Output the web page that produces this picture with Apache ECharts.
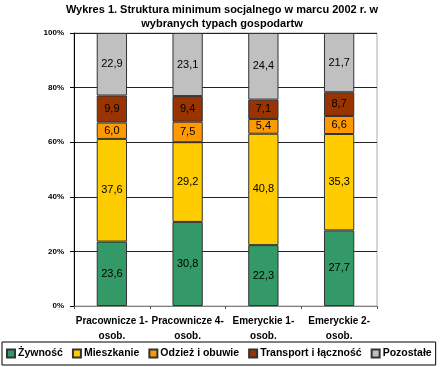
<!DOCTYPE html>
<html><head><meta charset="utf-8">
<script src="https://cdn.jsdelivr.net/npm/echarts@6/dist/echarts.min.js"></script>
<style>html,body{margin:0;padding:0;background:#fff}#c{width:444px;height:367px}</style>
</head><body><div id="c"></div>
<script>
const categories = ['Pracownicze 1-\nosob.', 'Pracownicze 4-\nosob.', 'Emeryckie 1-\nosob.', 'Emeryckie 2-\nosob.'];
const zywnosc = [23.6, 30.8, 22.3, 27.7];
const mieszkanie = [37.6, 29.2, 40.8, 35.3];
const odziez = [6.0, 7.5, 5.4, 6.6];
const transport = [9.9, 9.4, 7.1, 8.7];
const pozostale = [22.9, 23.1, 24.4, 21.7];
const seriesNames = ['Żywność', 'Mieszkanie', 'Odzież i obuwie', 'Transport i łączność', 'Pozostałe'];
const seriesData = [zywnosc, mieszkanie, odziez, transport, pozostale];
const colors = ['#339966', '#FFCC00', '#FF9900', '#993300', '#C0C0C0'];
const yTicks = ['0%', '20%', '40%', '60%', '80%', '100%'];

const chart = echarts.init(document.getElementById('c'));
chart.setOption({
  animation: false,
  textStyle: { fontFamily: 'Liberation Sans, Arial, sans-serif' },
  title: {
    text: 'Wykres 1. Struktura minimum socjalnego w marcu 2002 r. w\nwybranych typach gospodartw',
    left: 'center', top: 3, padding: 0,
    textStyle: { fontSize: 11, fontWeight: 'bold', color: '#000', lineHeight: 14 }
  },
  legend: {
    left: 2, bottom: 2, orient: 'horizontal', width: 440,
    icon: 'rect',
    itemWidth: 8, itemHeight: 8, itemGap: 9,
    padding: [6, 4, 6, 4],
    borderColor: '#000', borderWidth: 1,
    textStyle: { fontSize: 10.5, fontWeight: 'bold', color: '#000', padding: [0, 0, 0, -2] },
    data: seriesNames
  },
  grid: { left: 74, right: 67, top: 33, bottom: 61, show: true, borderColor: '#aaa', borderWidth: 1, backgroundColor: '#fff' },
  xAxis: {
    type: 'category', data: categories,
    axisLine: { lineStyle: { color: '#808080' } },
    axisTick: { show: true, length: 3, lineStyle: { color: '#555' } },
    axisLabel: { interval: 0, fontSize: 10, fontWeight: 'bold', color: '#000', lineHeight: 15, margin: 8 }
  },
  yAxis: {
    type: 'value', min: 0, max: 100, interval: 20,
    axisLine: { show: true, lineStyle: { color: '#000' } },
    axisTick: { show: true, length: 4, lineStyle: { color: '#000' } },
    splitLine: { lineStyle: { color: '#222', width: 1 } },
    axisLabel: { fontSize: 8, fontWeight: 'bold', color: '#000', margin: 10,
      formatter: v => yTicks[v / 20] }
  },
  series: seriesData.map((d, i) => ({
    name: seriesNames[i], type: 'bar', stack: 'a', data: d, barWidth: '40%',
    itemStyle: { color: colors[i], borderColor: '#333', borderWidth: 1 },
    label: { show: true, position: 'inside', fontSize: 11, color: '#000',
      formatter: p => p.value.toFixed(1).replace('.', ',') }
  }))
});
</script></body></html>
